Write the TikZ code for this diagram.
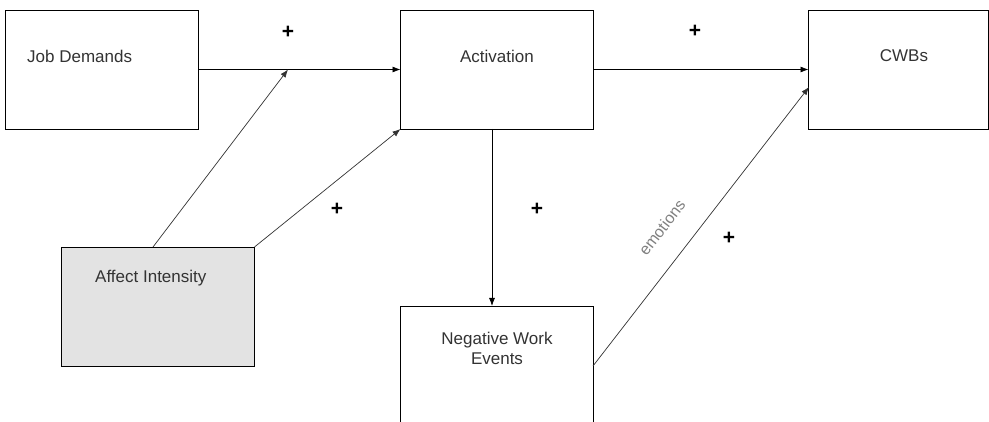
\documentclass[tikz,border=0pt]{standalone}
\usepackage{fontspec}
\setmainfont{Liberation Sans}
\usetikzlibrary{arrows.meta,calc}
\begin{document}
\begin{tikzpicture}[x=1pt,y=-1pt,
  box/.style={draw=black,line width=0.9pt,minimum width=193pt,minimum height=119pt,inner sep=0pt,outer sep=0pt},
  boxtext/.style={text=black!80,font=\fontsize{17}{20}\selectfont,inner sep=0pt},
  plus/.style={font=\fontsize{21}{21}\selectfont\bfseries,inner sep=0pt},
  link/.style={line width=0.8pt,-{Latex[length=8pt,width=6pt]}},
  diag/.style={line width=0.7pt,draw=black!80,-{Latex[length=8pt,width=6pt]}},
  note/.style={text=black!50,font=\fontsize{16}{18}\selectfont,inner sep=0pt}]
\useasboundingbox (0,0) rectangle (989,422);
\clip (0,0) rectangle (989,422);
\fill[white] (0,0) rectangle (989,422);

% boxes
\node[box] (jd)  at (101.5,69.5) {};
\node[box] (act) at (497,69.5) {};
\node[box,minimum width=180pt] (cwb) at (898.5,69.5) {};
\node[box,fill=black!11] (ai) at (158,306.5) {};
\node[box,minimum height=140pt] (nwe) at (497,376) {};

% box texts
\node[boxtext,anchor=west] (jdt) at (27,56) {Job Demands};
\node[boxtext] (actt) at (497,56) {Activation};
\node[boxtext] (cwbt) at (904,56) {CWBs};
\node[boxtext,anchor=west] (ait) at (95,278) {Affect Intensity};
\node[boxtext,align=center] (nwet) at (497,348) {Negative Work\\Events};

% connector ends
\coordinate (mod) at (288,69.5);
\coordinate (aitop) at (153,247);
\coordinate (actbot) at (492,129);
\coordinate (nwetop) at (492,306);
\coordinate (nweout) at (593,366);
\coordinate (cwbin) at (809,87);

% connectors
\draw[link] (jd.east) -- (act.west);
\draw[link] (act.east) -- (cwb.west);
\draw[link] (actbot) -- (nwetop);
\draw[diag] (aitop) -- (mod);
\draw[diag] (ai.north east) -- (act.south west);
\draw[diag] (nweout) -- (cwbin)
  node[note,pos=0.43,sloped,above=24pt] (emo) {emotions};

% signs
\node[plus] (p1) at (288,32) {+};
\node[plus] (p2) at (695,31) {+};
\node[plus] (p3) at (337,209) {+};
\node[plus] (p4) at (537,209) {+};
\node[plus] (p5) at (729,238) {+};
\end{tikzpicture}
\end{document}
